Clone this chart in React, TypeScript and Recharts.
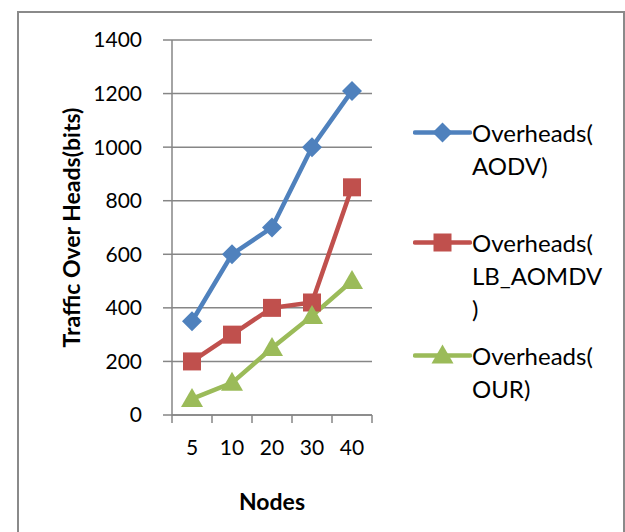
import React from "react";
import {
  LineChart,
  Line,
  XAxis,
  YAxis,
  CartesianGrid,
  Legend,
} from "recharts";

// node counts on the x axis
const NODES = ["5", "10", "20", "30", "40"];

// overhead traffic in bits for each protocol
const AODV = [350, 600, 700, 1000, 1210];
const LB_AOMDV = [200, 300, 400, 420, 850];
const OUR = [60, 120, 250, 370, 500];

const Y_TICKS = [0, 200, 400, 600, 800, 1000, 1200, 1400];

const SERIES_NAMES = ["Overheads(AODV)", "Overheads(LB_AOMDV)", "Overheads(OUR)"];
const LEGEND_LINES = [
  ["Overheads(", "AODV)"],
  ["Overheads(", "LB_AOMDV", ")"],
  ["Overheads(", "OUR)"],
];

const BLUE = "#4F81BD";
const RED = "#C0504D";
const GREEN = "#9BBB59";
const GRID = "#868686";
const FONT = "Lato, 'Open Sans', sans-serif";

// layout bits
const LEGEND_TOPS = [116, 226, 339];
const LINE_H = 33;
const HALF_BAND = 20;

const data = NODES.map((n, i) => ({
  nodes: n,
  aodv: AODV[i],
  lb: LB_AOMDV[i],
  our: OUR[i],
}));

type Shape = "diamond" | "square" | "triangle";

function marker(shape: Shape, cx: number, cy: number, color: string, key?: any) {
  if (shape === "diamond") {
    const r = 10;
    return (
      <polygon
        key={key}
        points={`${cx},${cy - r} ${cx + r},${cy} ${cx},${cy + r} ${cx - r},${cy}`}
        fill={color}
      />
    );
  }
  if (shape === "square") {
    const s = 9;
    return <rect key={key} x={cx - s} y={cy - s} width={s * 2} height={s * 2} fill={color} />;
  }
  const w = 11;
  return (
    <polygon
      key={key}
      points={`${cx},${cy - 11} ${cx + w},${cy + 8} ${cx - w},${cy + 8}`}
      fill={color}
    />
  );
}

const dotFor = (shape: Shape, color: string) => (props: any) =>
  marker(shape, props.cx, props.cy, color, `${shape}-${props.index}`);

const SHAPES: Shape[] = ["diamond", "square", "triangle"];

// tick marks sit on the category boundaries, labels in the middle
const XTick = (props: any) => {
  const { x, y, payload, index } = props;
  const top = y - 25;
  return (
    <g>
      <line x1={x - HALF_BAND} x2={x - HALF_BAND} y1={top} y2={top + 8} stroke={GRID} strokeWidth={1.5} />
      {index === NODES.length - 1 && (
        <line x1={x + HALF_BAND} x2={x + HALF_BAND} y1={top} y2={top + 8} stroke={GRID} strokeWidth={1.5} />
      )}
      <text x={x} y={y} dy="0.71em" textAnchor="middle" fill="#000" fontSize={21} fontFamily={FONT}>
        {payload.value}
      </text>
    </g>
  );
};

// zero-size box so the legend does not eat into the plot area
const renderLegend = (props: any) => {
  const { payload } = props;
  return (
    <div style={{ position: "relative", width: 0, height: 0, overflow: "visible", fontFamily: FONT }}>
      {payload.map((entry: any, i: number) => (
        <div
          key={entry.value}
          style={{ position: "absolute", left: 0, top: LEGEND_TOPS[i], display: "flex", whiteSpace: "nowrap" }}
        >
          <svg width={59} height={LINE_H} style={{ display: "block" }}>
            <line x1={2} x2={57} y1={LINE_H / 2} y2={LINE_H / 2} stroke={entry.color} strokeWidth={4.5} strokeLinecap="round" />
            {marker(SHAPES[i], 29.5, LINE_H / 2, entry.color)}
          </svg>
          <div style={{ fontSize: 24, lineHeight: `${LINE_H}px`, color: "#000" }}>
            {LEGEND_LINES[i].map((l) => (
              <div key={l}>{l}</div>
            ))}
          </div>
        </div>
      ))}
    </div>
  );
};

export default function App() {
  return (
    <div
      style={{
        position: "absolute",
        left: 0,
        top: 0,
        width: 625,
        height: 532,
        background: "#fff",
        overflow: "hidden",
      }}
    >
      <div
        style={{
          position: "absolute",
          left: 17,
          top: 11,
          width: 608,
          height: 540,
          border: "2px solid #8a8a8a",
          boxSizing: "border-box",
        }}
      />
      <div style={{ position: "absolute", left: 0, top: 0 }}>
        <LineChart
          width={625}
          height={532}
          data={data}
          margin={{ top: 40, right: 253, left: 62, bottom: 22 }}
        >
          <CartesianGrid vertical={false} stroke={GRID} strokeWidth={1.5} />
          <XAxis
            dataKey="nodes"
            height={95}
            padding={{ left: HALF_BAND, right: HALF_BAND }}
            tickLine={false}
            tickSize={8}
            tickMargin={17}
            axisLine={{ stroke: GRID, strokeWidth: 1.5 }}
            tick={<XTick />}
            interval={0}
            label={{
              value: "Nodes",
              position: "insideBottom",
              offset: 0,
              style: { fontFamily: FONT, fontWeight: "bold", fontSize: 23, fill: "#000" },
            }}
          />
          <YAxis
            width={110}
            domain={[0, 1400]}
            ticks={Y_TICKS}
            interval={0}
            tickSize={9}
            tickMargin={21}
            tickLine={{ stroke: GRID, strokeWidth: 1.5 }}
            axisLine={{ stroke: GRID, strokeWidth: 1.5 }}
            tick={{ fill: "#000", fontSize: 21, fontFamily: FONT }}
            label={{
              value: "Traffic Over Heads(bits)",
              angle: -90,
              position: "insideLeft",
              offset: 10,
              style: {
                textAnchor: "middle",
                fontFamily: FONT,
                fontWeight: "bold",
                fontSize: 23,
                fill: "#000",
              },
            }}
          />
          <Legend
            content={renderLegend}
            verticalAlign="top"
            wrapperStyle={{ left: 413, top: 0, width: 0, height: 0 }}
          />
          <Line
            dataKey="aodv"
            name={SERIES_NAMES[0]}
            stroke={BLUE}
            strokeWidth={4.5}
            dot={dotFor("diamond", BLUE)}
            activeDot={false}
            isAnimationActive={false}
          />
          <Line
            dataKey="lb"
            name={SERIES_NAMES[1]}
            stroke={RED}
            strokeWidth={4.5}
            dot={dotFor("square", RED)}
            activeDot={false}
            isAnimationActive={false}
          />
          <Line
            dataKey="our"
            name={SERIES_NAMES[2]}
            stroke={GREEN}
            strokeWidth={4.5}
            dot={dotFor("triangle", GREEN)}
            activeDot={false}
            isAnimationActive={false}
          />
        </LineChart>
      </div>
    </div>
  );
}
